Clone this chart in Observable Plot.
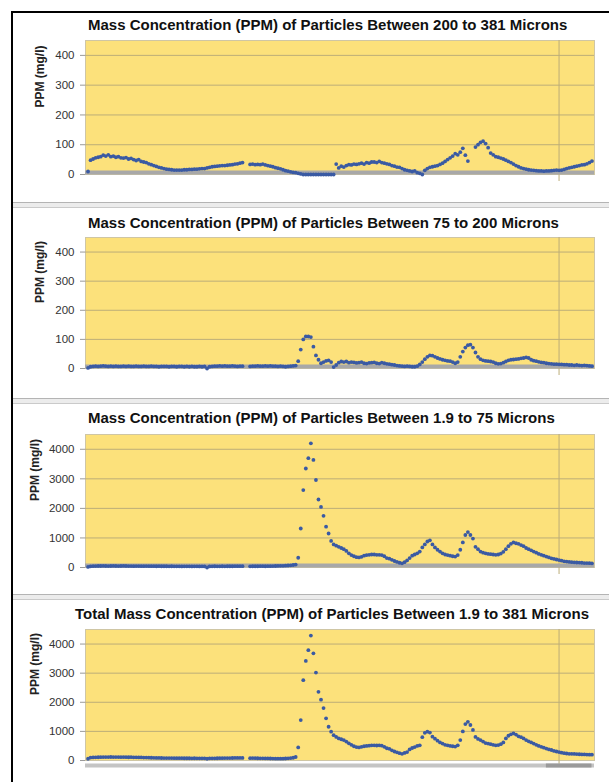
<!DOCTYPE html>
<html><head><meta charset="utf-8">
<script src="https://cdn.jsdelivr.net/npm/d3@7"></script>
<script src="https://cdn.jsdelivr.net/npm/@observablehq/plot@0.6"></script>
<style>
body{margin:0;background:#fff;width:609px;height:782px;overflow:hidden;position:relative;font-family:"Liberation Sans",Arial,sans-serif;}
.frameL{position:absolute;left:11px;top:11px;width:2px;height:771px;background:#000;}
.frameT{position:absolute;left:11px;top:11px;width:598px;height:2px;background:#000;}
.sep{position:absolute;left:13px;width:596px;height:4px;background:#ececec;border-top:1px solid #b4b4b4;border-bottom:1px solid #cacaca;}
.title{position:absolute;font-weight:bold;font-size:15px;line-height:16px;color:#111;white-space:nowrap;}
.panel{position:absolute;left:0;}
</style></head><body>
<div class="frameL"></div><div class="frameT"></div>
<div id="root"></div>
<script>
// Sample number along the measurement run (x)
const sampleIndex = d3.range(200);

// Panel titles
const titles = [
  "Mass Concentration (PPM) of Particles Between 200 to 381 Microns",
  "Mass Concentration (PPM) of Particles Between 75 to 200 Microns",
  "Mass Concentration (PPM) of Particles Between 1.9 to 75 Microns",
  "Total Mass Concentration (PPM) of Particles Between 1.9 to 381 Microns"
];
const yLabel = "PPM (mg/l)";
const ticksSmall = [0, 100, 200, 300, 400];
const ticksLarge = [0, 1000, 2000, 3000, 4000];
const verticalGrid = [186];
const scrollThumb = [181, 199];

// PPM values, 200–381 microns
const ppm200to381 = [
10,48,52,56,58,60,65,62,66,60,
62,58,60,56,55,57,52,54,50,47,
50,44,42,40,36,33,30,27,24,22,
20,18,17,16,15,15,15,15,16,16,
17,17,18,18,19,20,20,22,24,26,
27,28,29,30,30,31,32,33,35,36,
38,40,null,null,34,35,33,34,33,35,
32,30,28,26,23,21,19,16,13,11,
9,7,6,4,2,0,0,0,0,0,
0,0,0,0,0,0,0,0,35,22,
28,25,30,33,32,35,34,36,38,35,
40,38,42,42,40,44,40,38,36,34,
30,28,25,24,20,16,14,12,10,12,
6,4,0,14,20,24,26,28,30,34,
38,44,50,56,62,70,66,75,88,65,
45,null,null,92,100,108,112,104,90,72,
66,60,58,55,52,48,44,40,35,30,
26,22,20,18,16,15,14,13,12,12,
11,12,12,13,14,15,14,15,17,20,
22,24,26,28,30,32,33,36,40,45];

// PPM values, 75–200 microns
const ppm75to200 = [
2,6,7,8,7,8,9,8,7,8,
7,8,7,7,8,7,8,7,7,8,
7,7,8,7,7,8,7,7,6,7,
7,7,6,7,7,6,7,7,6,7,
6,7,6,6,7,6,7,0,6,7,
8,8,9,8,9,8,8,9,8,7,
8,8,null,null,7,8,8,9,8,8,
9,8,9,8,8,7,8,7,6,7,
8,9,10,25,65,100,110,110,108,75,
45,30,18,22,26,28,22,5,12,20,
24,22,24,20,22,21,19,20,22,18,
17,19,20,21,18,17,20,18,16,15,
13,12,10,9,8,7,8,7,6,6,
8,14,22,32,40,45,44,40,36,33,
30,28,26,25,22,18,22,40,58,72,
80,82,72,55,40,32,28,26,25,24,
22,18,16,17,20,24,28,30,31,32,
33,35,36,38,36,30,27,25,23,21,
20,18,17,16,15,15,14,14,13,13,
12,12,11,12,11,10,11,10,9,8];

// PPM values, 1.9–75 microns
const ppm1_9to75 = [
20,40,45,48,50,50,52,50,48,50,
52,50,48,50,52,50,48,47,46,48,
47,46,45,47,45,44,45,43,44,42,
43,42,40,42,41,40,40,38,40,39,
40,38,40,39,38,40,38,0,38,40,
42,40,41,42,40,42,43,42,44,45,
44,46,null,null,40,42,43,42,44,45,
43,45,46,48,50,52,55,58,62,68,
75,85,100,330,1320,2620,3350,3700,4200,3640,
2960,2300,2050,1750,1380,1150,900,780,740,700,
660,620,560,480,420,380,350,340,360,400,
420,430,440,440,430,430,420,380,320,300,
260,220,190,160,140,180,240,320,400,440,
480,540,680,780,880,920,780,680,600,540,
480,440,420,400,380,370,420,600,850,1100,
1200,1100,980,700,620,540,500,480,460,450,
440,430,440,470,530,620,720,800,850,820,
800,760,720,660,620,580,540,500,460,430,
400,370,340,310,290,270,250,230,210,200,
190,180,175,170,165,160,150,150,145,140];

// PPM values, total 1.9–381 microns
const ppmTotal = [
60,100,105,110,112,115,118,116,118,120,
118,117,118,115,116,114,112,113,110,108,
106,104,102,100,98,95,92,90,88,86,
85,84,82,82,80,80,79,80,78,77,
78,76,77,75,76,74,75,60,74,75,
76,78,80,80,82,84,85,86,88,88,
90,90,null,null,80,82,80,78,76,74,
72,70,68,66,64,62,62,64,68,75,
85,95,120,450,1390,2760,3420,3790,4290,3680,
3020,2360,2090,1800,1450,1160,990,870,810,760,
730,700,650,590,540,490,460,450,470,490,
500,510,520,520,515,520,510,470,420,400,
350,310,280,250,230,260,290,380,430,460,
500,520,800,950,990,960,820,750,680,620,
580,540,520,500,490,480,520,700,1000,1250,
1330,1220,1050,810,740,700,650,600,580,560,
540,520,530,560,620,760,850,900,930,890,
830,800,760,700,660,620,580,540,500,470,
440,410,380,360,330,310,290,270,250,240,
230,230,225,220,215,210,210,205,200,200];

const series = [ppm200to381, ppm75to200, ppm1_9to75, ppmTotal];
const yMaxes = [450, 450, 4500, 4500];
const tickSets = [ticksSmall, ticksSmall, ticksLarge, ticksLarge];

// layout (pixels)
const layout = [
  {titleTop: 17, titleLeft: 88, svgTop: 34, plotH: 134, band: "zero", labelDx: -45},
  {titleTop: 215, titleLeft: 88, svgTop: 231, plotH: 131, band: "zero", labelDx: -45},
  {titleTop: 410, titleLeft: 88, svgTop: 428, plotH: 133, band: "zero", labelDx: -50},
  {titleTop: 606, titleLeft: 75, svgTop: 623, plotH: 131, band: "scroll", labelDx: -50}
];
const sepTops = [202, 398, 594];

const root = document.getElementById("root");
sepTops.forEach(t => {
  const d = document.createElement("div");
  d.className = "sep"; d.style.top = t + "px"; root.appendChild(d);
});

const yellow = "#FCE17B";
const gridColor = "#bcad78";
const dotColor = "#3a5aa3";

series.forEach((vals, k) => {
  const L = layout[k];
  const data = sampleIndex.map(i => ({i, v: vals[i]}));
  const ticks = tickSets[k];
  const bandMarks = L.band === "zero"
    ? [Plot.ruleY([0], {stroke: "#a8a8a8", strokeWidth: 4, dy: -2})]
    : [Plot.ruleY([0], {stroke: "#c4c4c4", strokeWidth: 4, dy: 5}),
       Plot.ruleY([0], {x1: scrollThumb[0], x2: scrollThumb[1], stroke: "#9a9a9a", strokeWidth: 4, dy: 5})];
  const chart = Plot.plot({
    width: 609,
    height: 6 + L.plotH + 20,
    marginLeft: 85, marginRight: 15, marginTop: 6, marginBottom: 20,
    x: {domain: [-1, 200], axis: null},
    y: {domain: [0, yMaxes[k]], axis: null},
    style: {background: "transparent", fontFamily: "'Liberation Sans', Arial, sans-serif", fontSize: "11.5px", overflow: "visible"},
    marks: [
      Plot.frame({fill: yellow, stroke: "#cfc6a4"}),
      Plot.gridY(ticks.slice(1), {stroke: gridColor, strokeOpacity: 1}),
      Plot.ruleX(verticalGrid, {stroke: gridColor, insetBottom: -7}),
      ...bandMarks,
      Plot.dot(data, {x: "i", y: "v", r: 1.9, fill: dotColor, stroke: "none"}),
      Plot.axisY(ticks, {tickSize: 5, tickPadding: 6, tickFormat: d3.format("d"), stroke: "#9a9a9a", fill: "#333", label: null}),
      Plot.text([yLabel], {frameAnchor: "left", rotate: -90, dx: L.labelDx, fontWeight: "bold", fontSize: 12, fill: "#222"})
    ]
  });
  const wrap = document.createElement("div");
  wrap.className = "panel"; wrap.style.top = L.svgTop + "px";
  wrap.appendChild(chart);
  root.appendChild(wrap);
  const t = document.createElement("div");
  t.className = "title"; t.style.top = L.titleTop + "px"; t.style.left = L.titleLeft + "px";
  t.textContent = titles[k];
  root.appendChild(t);
});
</script>
</body></html>
